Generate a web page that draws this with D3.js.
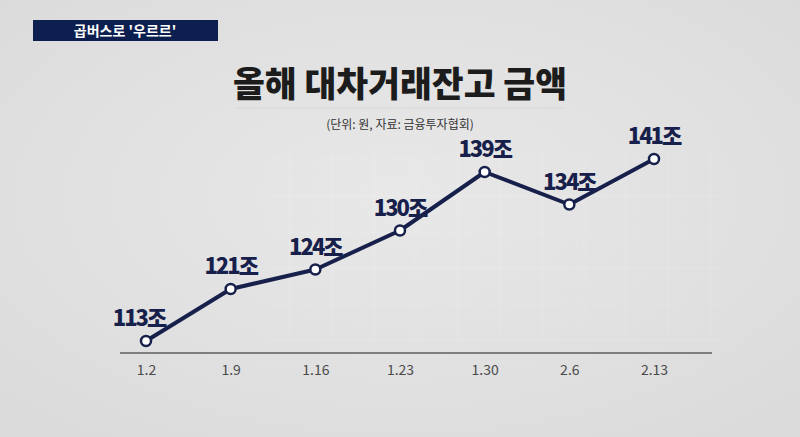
<!DOCTYPE html>
<html>
<head>
<meta charset="utf-8">
<script src="https://cdn.jsdelivr.net/npm/d3@7"></script>
<style>
  body { margin: 0; background: #e2e2e2; }
  svg { display: block; }
</style>
</head>
<body>
<div id="vis-holder"></div>
<script>
// data
const dates = ["1.2", "1.9", "1.16", "1.23", "1.30", "2.6", "2.13"];
const balances = [113, 121, 124, 130, 139, 134, 141];
const unit = "조";

const w = 800;
const h = 437;
const font = "'Noto Sans CJK KR', 'Noto Sans', sans-serif";

const svg = d3.select("#vis-holder").append("svg")
    .attr("width", w)
    .attr("height", h);

// background with a soft light centre
const defs = svg.append("defs");
const bg = defs.append("radialGradient").attr("id", "bg")
    .attr("cx", "50%").attr("cy", "45%").attr("r", "70%");
bg.append("stop").attr("offset", "0%").attr("stop-color", "#e8e8e8");
bg.append("stop").attr("offset", "100%").attr("stop-color", "#dbdbdb");
svg.append("rect").attr("width", w).attr("height", h).attr("fill", "url(#bg)");

// faint background grid
const grid = svg.append("g").attr("stroke", "#ffffff").attr("stroke-opacity", 0.18).attr("stroke-width", 1);
d3.range(290, 720, 42).forEach(x => {
    grid.append("line").attr("x1", x).attr("x2", x).attr("y1", 150).attr("y2", 340);
});
d3.range(160, 345, 36).forEach(y => {
    grid.append("line").attr("x1", 270).attr("x2", 720).attr("y1", y).attr("y2", y);
});

// banner
svg.append("rect")
    .attr("x", 33).attr("y", 20).attr("width", 185).attr("height", 21)
    .attr("fill", "#0c1f4e");
svg.append("text")
    .attr("x", 125).attr("y", 36)
    .attr("text-anchor", "middle")
    .style("font-family", font).style("font-size", "14px").style("font-weight", 700)
    .attr("fill", "#ffffff")
    .text("곱버스로 '우르르'");

// title
svg.append("text")
    .attr("x", 400).attr("y", 97)
    .attr("text-anchor", "middle")
    .attr("textLength", 334).attr("lengthAdjust", "spacingAndGlyphs")
    .style("font-family", font).style("font-size", "35px").style("font-weight", 900)
    .attr("fill", "#1c1c1c")
    .text("올해 대차거래잔고 금액");

svg.append("line")
    .attr("x1", 235).attr("x2", 565).attr("y1", 108).attr("y2", 108)
    .attr("stroke", "#d6d6d6").attr("stroke-width", 1);

svg.append("text")
    .attr("x", 400).attr("y", 129)
    .attr("text-anchor", "middle")
    .style("font-family", font).style("font-size", "12px")
    .attr("fill", "#333")
    .text("(단위: 원, 자료: 금융투자협회)");

// scales
const x = d3.scalePoint().domain(dates).range([146, 654]);
const y = d3.scaleLinear().domain([113, 141]).range([341, 159]);

// x axis
const xAxis = svg.append("g")
    .attr("transform", "translate(0,353)")
    .call(d3.axisBottom(x).tickSize(0).tickPadding(12));
xAxis.select(".domain").remove();
xAxis.append("line")
    .attr("x1", 120).attr("x2", 712)
    .attr("stroke", "#5e5e5e").attr("stroke-width", 1.5);
xAxis.selectAll(".tick text")
    .style("font-family", font).style("font-size", "14px")
    .attr("fill", "#4a4a4a");

const points = dates.map((d, i) => ({date: d, value: balances[i]}));

// line
svg.append("path")
    .datum(points)
    .attr("fill", "none")
    .attr("stroke", "#17204a")
    .attr("stroke-width", 4)
    .attr("stroke-linejoin", "round")
    .attr("d", d3.line().x(d => x(d.date)).y(d => y(d.value)));

// markers
svg.selectAll("circle.pt")
    .data(points)
    .enter()
    .append("circle")
    .attr("class", "pt")
    .attr("cx", d => x(d.date))
    .attr("cy", d => y(d.value))
    .attr("r", 5)
    .attr("fill", "#ffffff")
    .attr("stroke", "#17204a")
    .attr("stroke-width", 2.5);

// value labels
svg.selectAll("text.val")
    .data(points)
    .enter()
    .append("text")
    .attr("class", "val")
    .attr("x", (d, i) => x(d.date) - (i === 0 ? 7 : 0))
    .attr("y", d => y(d.value) - 15)
    .attr("text-anchor", "middle")
    .style("font-family", font).style("font-size", "22px").style("font-weight", 900)
    .style("letter-spacing", "-2px")
    .attr("fill", "#17204a")
    .text(d => d.value + unit);
</script>
</body>
</html>
